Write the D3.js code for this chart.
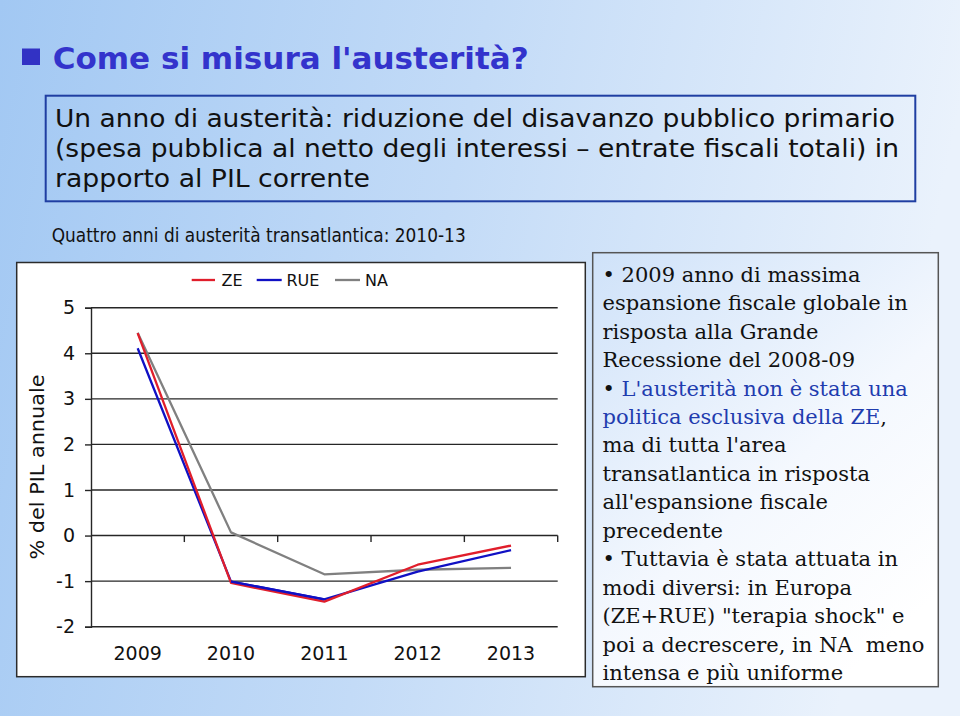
<!DOCTYPE html>
<html>
<head>
<meta charset="utf-8">
<script src="https://cdn.jsdelivr.net/npm/d3@7/dist/d3.min.js"></script>
<style>
  html, body { margin: 0; padding: 0; background: #fff; }
  svg { display: block; }
</style>
</head>
<body>
<svg id="chart" width="960" height="716"></svg>
<script>
// ---------- Data ----------
const years = ["2009", "2010", "2011", "2012", "2013"];
const seriesNames = ["ZE", "RUE", "NA"];
const valuesZE  = [4.44, -1.04, -1.45, -0.64, -0.22];
const valuesRUE = [4.11, -1.01, -1.40, -0.79, -0.32];
const valuesNA  = [4.45,  0.07, -0.85, -0.75, -0.71];
const yTicks = [-2, -1, 0, 1, 2, 3, 4, 5];

const titleText = "Come si misura l'austerità?";
const boxLines = [
  "Un anno di austerità: riduzione del disavanzo pubblico primario",
  "(spesa pubblica al netto degli interessi \u2013 entrate fiscali totali) in",
  "rapporto al PIL corrente"
];
const subtitleText = "Quattro anni di austerità transatlantica: 2010-13";
const yAxisTitle = "% del PIL annuale";
// each line: array of [text, isBlue]
const noteLines = [
  [["\u2022 2009 anno di massima", false]],
  [["espansione fiscale globale in", false]],
  [["risposta alla Grande", false]],
  [["Recessione del 2008-09", false]],
  [["\u2022 ", false], ["L'austerità non è stata una", true]],
  [["politica esclusiva della ZE", true], [",", false]],
  [["ma di tutta l'area", false]],
  [["transatlantica in risposta", false]],
  [["all'espansione fiscale", false]],
  [["precedente", false]],
  [["\u2022 Tuttavia è stata attuata in", false]],
  [["modi diversi: in Europa", false]],
  [["(ZE+RUE) \"terapia shock\" e", false]],
  [["poi a decrescere, in NA\u00a0 meno", false]],
  [["intensa e più uniforme", false]]
];

const colors = { ZE: "#e01e2b", RUE: "#1010c4", NA: "#808080" };
const seriesData = { ZE: valuesZE, RUE: valuesRUE, NA: valuesNA };

// ---------- Setup ----------
const svg = d3.select("#chart");
const defs = svg.append("defs");

const bg = defs.append("linearGradient").attr("id", "bg")
  .attr("x1", 0).attr("y1", 0).attr("x2", 1).attr("y2", 0.15);
bg.append("stop").attr("offset", 0).attr("stop-color", "#a2c8f3");
bg.append("stop").attr("offset", 0.5).attr("stop-color", "#c3dbf7");
bg.append("stop").attr("offset", 1).attr("stop-color", "#eaf2fc");

const tb = defs.append("linearGradient").attr("id", "tb")
  .attr("x1", 0).attr("y1", 0).attr("x2", 0.7).attr("y2", 1);
tb.append("stop").attr("offset", 0).attr("stop-color", "#cfe2f9");
tb.append("stop").attr("offset", 0.6).attr("stop-color", "#f4f8fe");
tb.append("stop").attr("offset", 1).attr("stop-color", "#ffffff");

svg.append("rect").attr("width", 960).attr("height", 716).attr("fill", "url(#bg)");

const sansC = "'DejaVu Sans Condensed', 'DejaVu Sans', sans-serif";
const sans = "'DejaVu Sans', Verdana, sans-serif";

// ---------- Title ----------
svg.append("rect").attr("x", 22).attr("y", 48.5).attr("width", 18).attr("height", 16.5)
  .attr("fill", "#3232c4");
svg.append("text").attr("x", 52.7).attr("y", 69.3)
  .attr("font-family", sansC).attr("font-weight", "bold").attr("font-size", 31)
  .attr("fill", "#3333cc")
  .attr("textLength", 476).attr("lengthAdjust", "spacingAndGlyphs")
  .text(titleText);

// ---------- Definition box ----------
svg.append("rect").attr("x", 45.7).attr("y", 95.7).attr("width", 869.6).attr("height", 105.6)
  .attr("fill", "none").attr("stroke", "#1f3ea2").attr("stroke-width", 2);
const boxTargets = [840, 844, 315];
boxLines.forEach((t, i) => {
  svg.append("text").attr("x", 55).attr("y", 126.7 + i * 30)
    .attr("font-family", sansC).attr("font-size", 24).attr("fill", "#111")
    .attr("textLength", boxTargets[i]).attr("lengthAdjust", "spacingAndGlyphs")
    .text(t);
});

// ---------- Subtitle ----------
svg.append("text").attr("x", 51.7).attr("y", 241.5)
  .attr("font-family", sans).attr("font-size", 20).attr("fill", "#111")
  .attr("textLength", 414).attr("lengthAdjust", "spacingAndGlyphs")
  .text(subtitleText);

// ---------- Chart box ----------
svg.append("rect").attr("x", 16.7).attr("y", 262.5).attr("width", 568.6).attr("height", 414.2)
  .attr("fill", "#ffffff").attr("stroke", "#2b2b2b").attr("stroke-width", 1.5);

const x = d3.scaleBand().domain(years).range([91, 557.7]).padding(0);
const y = d3.scaleLinear().domain([-2, 5]).range([626.7, 307.7]);

// gridlines
const g = svg.append("g");
g.selectAll("line.grid").data(yTicks).join("line")
  .attr("class", "grid")
  .attr("x1", x.range()[0]).attr("x2", x.range()[1])
  .attr("y1", d => y(d)).attr("y2", d => y(d))
  .attr("stroke", "#262626").attr("stroke-width", 1.4);

// y axis
const yAxis = g.append("g").attr("transform", `translate(${x.range()[0]},0)`)
  .call(d3.axisLeft(y).tickValues(yTicks).tickSize(6).tickPadding(10).tickFormat(d3.format("d")));
yAxis.select(".domain").attr("stroke", "#262626").attr("stroke-width", 1.4);
yAxis.selectAll(".tick line").attr("stroke", "#262626").attr("stroke-width", 1.4);
yAxis.selectAll(".tick text").attr("font-family", sans).attr("font-size", 19).attr("fill", "#111")
  .text(d => d < 0 ? "-" + Math.abs(d) : d);

// category axis at zero with ticks between categories
const boundaries = years.map(yr => x(yr)).slice(1).concat([x.range()[1]]);
g.selectAll("line.ctick").data(boundaries).join("line")
  .attr("class", "ctick")
  .attr("x1", d => d).attr("x2", d => d)
  .attr("y1", y(0)).attr("y2", y(0) + 6.5)
  .attr("stroke", "#262626").attr("stroke-width", 1.4);

// category labels at the bottom
const xAxis = g.append("g").attr("transform", `translate(0,${y(-2)})`)
  .call(d3.axisBottom(x).tickSize(0).tickPadding(20));
xAxis.select(".domain").remove();
xAxis.selectAll(".tick text").attr("font-family", sans).attr("font-size", 19).attr("fill", "#111");

// y-axis title
svg.append("text")
  .attr("transform", "translate(43.5,467) rotate(-90)")
  .attr("text-anchor", "middle")
  .attr("font-family", sansC).attr("font-size", 20).attr("fill", "#111")
  .attr("textLength", 185).attr("lengthAdjust", "spacingAndGlyphs")
  .text(yAxisTitle);

// lines
const line = d3.line().x((d, i) => x(years[i]) + x.bandwidth() / 2).y(d => y(d));
["NA", "RUE", "ZE"].forEach(name => {
  svg.append("path").datum(seriesData[name])
    .attr("d", line).attr("fill", "none")
    .attr("stroke", colors[name]).attr("stroke-width", 2.3)
    .attr("stroke-linejoin", "round");
});
// keep the blue on top where it overlaps in the original near 2010-2011
svg.append("path").datum(valuesRUE.slice(1, 3))
  .attr("d", d3.line().x((d, i) => x(years[i + 1]) + x.bandwidth() / 2).y(d => y(d)))
  .attr("fill", "none").attr("stroke", colors.RUE).attr("stroke-width", 2.3);

// legend
const legend = [
  { name: "ZE", x1: 191.7, x2: 215, tx: 221.5 },
  { name: "RUE", x1: 256.7, x2: 281.7, tx: 286.5 },
  { name: "NA", x1: 335, x2: 360, tx: 365 }
];
legend.forEach(l => {
  svg.append("line").attr("x1", l.x1).attr("x2", l.x2).attr("y1", 280).attr("y2", 280)
    .attr("stroke", colors[l.name]).attr("stroke-width", 2.3);
  svg.append("text").attr("x", l.tx).attr("y", 285.8)
    .attr("font-family", sans).attr("font-size", 16).attr("fill", "#111").text(l.name);
});

// ---------- Notes box ----------
svg.append("rect").attr("x", 592.7).attr("y", 252.7).attr("width", 345.6).attr("height", 434)
  .attr("fill", "url(#tb)").attr("stroke", "#555").attr("stroke-width", 1.5);
noteLines.forEach((segs, i) => {
  const t = svg.append("text").attr("x", 602.5).attr("y", 281.7 + i * 28.45)
    .attr("font-family", "'DejaVu Serif', 'Liberation Serif', serif").attr("font-size", 21)
    .attr("fill", "#111");
  segs.forEach(([s, blue]) => {
    t.append("tspan").attr("fill", blue ? "#1f3caf" : "#111").text(s);
  });
  // keep inside the box
  const w = t.node().getComputedTextLength();
  if (w > 328) t.attr("textLength", 328).attr("lengthAdjust", "spacingAndGlyphs");
});
</script>
</body>
</html>
